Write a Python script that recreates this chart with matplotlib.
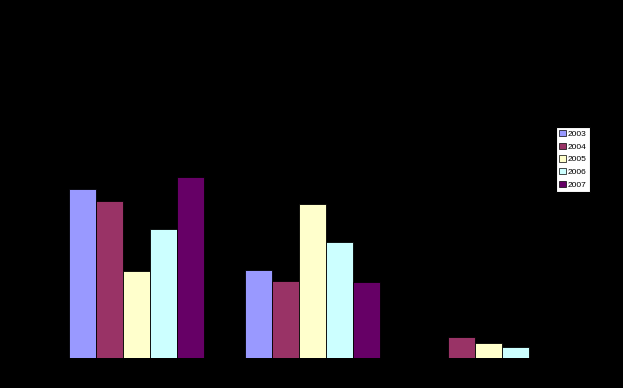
import matplotlib
matplotlib.use("Agg")
import matplotlib.pyplot as plt
import numpy as np

plt.rcParams['font.family'] = ['Liberation Sans', 'DejaVu Sans']

categories = ["A", "B", "C"]
years = ["2003", "2004", "2005", "2006", "2007"]
v2003 = [167, 87, 0]
v2004 = [155, 76, 20]
v2005 = [86, 152, 14]
v2006 = [127, 114, 10]
v2007 = [179, 75, 0]
series = [v2003, v2004, v2005, v2006, v2007]
colors = ["#9999FF", "#993366", "#FFFFCC", "#CCFFFF", "#660066"]

fig = plt.figure(figsize=(6.23, 3.88), dpi=100, facecolor="black")
ax = fig.add_axes([48.5 / 623, 30.5 / 388, 528 / 623, 337.5 / 388])
ax.set_facecolor("black")

x = np.arange(len(categories))
w = 1 / 6.5
for i, (vals, c, y) in enumerate(zip(series, colors, years)):
    ax.bar(x + (i - 2) * w, vals, width=w, color=c, edgecolor="black",
           linewidth=0.6, label=y)

ax.set_xlim(-0.5, 2.5)
ax.set_ylim(0, 334.5)
for s in ax.spines.values():
    s.set_visible(False)
ax.set_xticks([])
ax.set_yticks([])

leg = fig.legend(loc="upper left", bbox_to_anchor=(556 / 623, 1 - 127 / 388),
                 borderaxespad=0, fontsize=6, frameon=True, fancybox=False,
                 framealpha=1, handlelength=0.8, handleheight=0.8,
                 handletextpad=0.3, labelspacing=0.55, borderpad=0.35)
leg.get_frame().set_facecolor("white")
leg.get_frame().set_edgecolor("black")
leg.get_frame().set_linewidth(0.8)
for h in leg.legend_handles:
    h.set_edgecolor("black")
    h.set_linewidth(0.5)

fig.savefig("out.png", dpi=100, facecolor="black")
